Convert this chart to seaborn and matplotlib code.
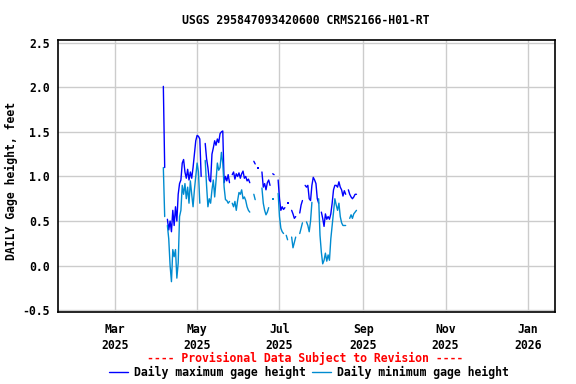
import numpy as np
import pandas as pd
import matplotlib
matplotlib.use("Agg")
import matplotlib.pyplot as plt
from matplotlib.lines import Line2D
import seaborn as sns

nan = np.nan
start_date = "2025-04-06"
daily_max = [
    2.01, 1.10, nan, 0.52, 0.40, 0.50, 0.38, 0.62, 0.45, 0.66,
    0.50, 0.80, 0.92, 0.96, 1.15, 1.19, 1.05, 0.98, 1.08, 0.96,
    1.05, 0.98, 1.10, 1.25, 1.40, 1.46, 1.45, 1.42, 1.00, nan,
    nan, 1.37, 1.20, 1.10, 0.96, 0.94, 1.25, 1.32, 1.40, 1.35,
    1.42, 1.38, 1.48, 1.50, 1.51, 0.93, 1.00, 0.95, 1.02, 0.93,
    nan, 1.02, 1.05, 0.97, 1.03, 1.00, 1.04, 0.98, 1.03, 1.06,
    0.98, 1.00, 0.95, 0.97, 0.93, nan, nan, 1.17, 1.14, nan,
    1.10, nan, nan, 1.05, 0.88, 0.92, 0.85, 0.93, 0.96, 0.90,
    nan, 1.03, 1.02, nan, nan, 0.96, 0.75, 0.62, 0.66, 0.63,
    0.65, nan, 0.70, nan, nan, 0.62, 0.58, 0.53, 0.55, nan,
    nan, 0.59, 0.68, 0.73, nan, 0.90, 0.88, 0.90, 0.75, 0.73,
    0.90, 0.99, 0.96, 0.92, 0.75, 0.70, nan, 0.60, 0.53, 0.44,
    0.58, 0.52, 0.55, 0.52, 0.58, 0.70, 0.85, 0.90, 0.90, 0.88,
    0.94, 0.88, 0.85, 0.78, 0.84, 0.80, nan, 0.85, 0.80, 0.77,
    0.75, 0.77, 0.80, 0.80,
]
daily_min = [
    1.10, 0.55, nan, 0.45, 0.30, 0.00, -0.18, 0.18, 0.10, 0.18,
    -0.14, 0.03, 0.55, 0.62, 0.90, 0.80, 0.92, 0.75, 0.88, 0.70,
    0.95, 0.80, 0.66, 0.85, 1.00, 1.15, 1.05, 0.70, nan, nan,
    nan, 1.18, 0.90, 0.66, 0.75, 0.70, 0.85, 0.96, 0.77, 0.95,
    1.15, 1.07, 1.10, 1.27, 1.15, 0.88, 0.74, 0.73, 0.70, 0.72,
    nan, 0.70, 0.66, 0.72, 0.62, 0.73, 0.82, 0.80, 0.85, 0.75,
    0.77, 0.73, 0.66, 0.62, 0.60, nan, nan, 0.80, 0.74, nan,
    nan, nan, nan, 0.87, 0.70, 0.62, 0.57, 0.60, 0.65, nan,
    nan, 0.75, nan, nan, nan, 0.81, 0.55, 0.42, 0.38, 0.36,
    nan, 0.34, 0.29, nan, nan, 0.32, 0.20, 0.26, 0.32, nan,
    nan, 0.36, 0.42, 0.48, nan, nan, 0.49, 0.45, 0.38, 0.50,
    0.71, nan, nan, nan, nan, 0.75, 0.34, 0.15, 0.02, 0.06,
    0.14, 0.05, 0.12, 0.06, 0.30, 0.45, 0.60, 0.75, 0.68, 0.62,
    0.70, 0.55, 0.48, 0.45, 0.45, 0.45, nan, nan, 0.53, 0.57,
    0.53, 0.58, 0.60, 0.62,
]
y_ticks = [-0.5, 0.0, 0.5, 1.0, 1.5, 2.0, 2.5]
x_tick_dates = ["2025-03-01", "2025-05-01", "2025-07-01", "2025-09-01", "2025-11-01", "2026-01-01"]
x_tick_labels = ["Mar\n2025", "May\n2025", "Jul\n2025", "Sep\n2025", "Nov\n2025", "Jan\n2026"]
title = "USGS 295847093420600 CRMS2166-H01-RT"
ylabel = "DAILY Gage height, feet"
note = "---- Provisional Data Subject to Revision ----"
series_labels = ["Daily maximum gage height", "Daily minimum gage height"]
colors = ["#0000ff", "#008bd0"]

sns.set_theme(style="white")
plt.rcParams["font.family"] = ["DejaVu Sans Mono"]
plt.rcParams["font.weight"] = "bold"
plt.rcParams["text.color"] = "black"
plt.rcParams["axes.labelcolor"] = "black"
plt.rcParams["xtick.color"] = "black"
plt.rcParams["ytick.color"] = "black"
FS = 8.3

dates = pd.date_range(start_date, periods=len(daily_max), freq="D")


def make_df(vals):
    s = pd.Series(vals, index=dates)
    seg = s.isna().cumsum()
    df = pd.DataFrame({"date": dates, "value": s.values, "seg": seg.values})
    df = df.dropna()
    counts = df.groupby("seg")["value"].transform("size")
    return df, counts


fig = plt.figure(figsize=(5.76, 3.84), dpi=100)
ax = fig.add_axes([58 / 576, 1 - 312 / 384, (555 - 58) / 576, (312 - 40) / 384])

for vals, col in [(daily_max, colors[0]), (daily_min, colors[1])]:
    df, counts = make_df(vals)
    multi = df[counts > 1]
    single = df[counts == 1]
    sns.lineplot(data=multi, x="date", y="value", units="seg", estimator=None,
                 color=col, linewidth=1.0, ax=ax, legend=False)
    if len(single):
        sns.scatterplot(data=single, x="date", y="value", color=col, marker="s",
                        s=3, linewidth=0, ax=ax, legend=False)

ax.set_xlim(pd.Timestamp("2025-01-18"), pd.Timestamp("2026-01-21"))
ax.set_ylim(-0.52, 2.53)
ax.set_yticks(y_ticks)
ax.set_yticklabels([f"{v:.1f}" for v in y_ticks], fontsize=FS, fontweight="bold", color="black")
ax.set_xticks([pd.Timestamp(d) for d in x_tick_dates])
ax.set_xticklabels(x_tick_labels, fontsize=FS, fontweight="bold", linespacing=1.3, color="black")
ax.grid(True, color="#cccccc", linewidth=1.0)
ax.set_axisbelow(True)
for sp in ax.spines.values():
    sp.set_color("black")
    sp.set_linewidth(1.2)
ax.tick_params(axis="both", direction="in", length=4, width=0.8, colors="black", pad=6)
ax.tick_params(axis="x", pad=8)
ax.set_xlabel("")
ax.set_ylabel("")

fig.text(306 / 576, 1 - 21 / 384, title, fontsize=FS, fontweight="bold",
         ha="center", va="center", color="black")
fig.text(11.7 / 576, 1 - 181 / 384, ylabel, fontsize=FS, fontweight="bold",
         rotation=90, ha="center", va="center", color="black")
fig.text(305.5 / 576, 1 - 358 / 384, note, color="red", fontsize=FS, fontweight="bold",
         ha="center", va="center")
handles = [Line2D([0], [0], color=c, linewidth=1.0) for c in colors]
leg = fig.legend(handles, series_labels, loc="center", bbox_to_anchor=(309 / 576, 1 - 372.5 / 384),
                 ncol=2, frameon=False, fontsize=FS, handlelength=1.6, handletextpad=0.5,
                 columnspacing=0.6, borderaxespad=0, borderpad=0)
for t in leg.get_texts():
    t.set_color("black")

fig.savefig("out.png", dpi=100)
